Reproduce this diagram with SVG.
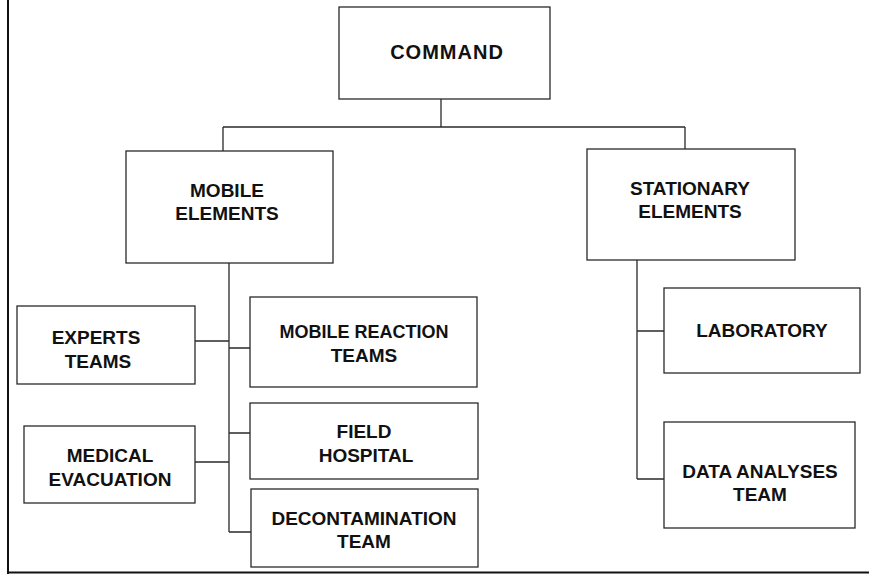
<svg xmlns="http://www.w3.org/2000/svg" width="869" height="574" viewBox="0 0 869 574">
<style>
.box{fill:#fff;stroke:#2a2a2a;stroke-width:1.3}
.t{font-family:"Liberation Sans",Arial,sans-serif;font-weight:bold;font-size:19px;fill:#111;text-anchor:middle}
.c{fill:none;stroke:#2a2a2a;stroke-width:1.3}
.frame{fill:none;stroke:#111;stroke-width:2}
</style>
<rect width="869" height="574" fill="#fff"/>
<g id="frame">
<line class="frame" x1="8" y1="0" x2="8" y2="574"/>
<line class="frame" x1="8" y1="572.5" x2="869" y2="572.5"/>
</g>
<g id="connectors">
<path class="c" d="M441 99V127M223 127H685M223 127V151M685 127V149"/>
<path class="c" d="M229 263V532M195 341H229M229 348H250M229 433H250M195 462H229M229 532H251"/>
<path class="c" d="M637 260V479M637 331H664M637 479H664"/>
</g>
<g id="command">
<rect class="box" x="339" y="7" width="211" height="92"/>
<text class="t" x="447" y="59" style="font-size:20px;letter-spacing:1px">COMMAND</text>
</g>
<g id="mobile-elements">
<rect class="box" x="126" y="151" width="207" height="112"/>
<text class="t" x="227" y="197">MOBILE</text>
<text class="t" x="227" y="220">ELEMENTS</text>
</g>
<g id="stationary-elements">
<rect class="box" x="587" y="149" width="208" height="111"/>
<text class="t" x="690" y="195">STATIONARY</text>
<text class="t" x="690" y="218">ELEMENTS</text>
</g>
<g id="experts-teams">
<rect class="box" x="17" y="306" width="178" height="78"/>
<text class="t" x="96" y="344">EXPERTS</text>
<text class="t" x="98" y="368">TEAMS</text>
</g>
<g id="mobile-reaction-teams">
<rect class="box" x="250" y="297" width="227" height="90"/>
<text class="t" x="364" y="338" style="font-size:18px">MOBILE REACTION</text>
<text class="t" x="364" y="362">TEAMS</text>
</g>
<g id="field-hospital">
<rect class="box" x="250" y="403" width="228" height="76"/>
<text class="t" x="364" y="438">FIELD</text>
<text class="t" x="366" y="462">HOSPITAL</text>
</g>
<g id="medical-evacuation">
<rect class="box" x="24" y="426" width="171" height="77"/>
<text class="t" x="110" y="462">MEDICAL</text>
<text class="t" x="110" y="486">EVACUATION</text>
</g>
<g id="decontamination-team">
<rect class="box" x="251" y="489" width="227" height="78"/>
<text class="t" x="364" y="525">DECONTAMINATION</text>
<text class="t" x="364" y="548">TEAM</text>
</g>
<g id="laboratory">
<rect class="box" x="664" y="288" width="196" height="85"/>
<text class="t" x="762" y="337">LABORATORY</text>
</g>
<g id="data-analyses-team">
<rect class="box" x="664" y="422" width="191" height="106"/>
<text class="t" x="760" y="478">DATA ANALYSES</text>
<text class="t" x="760" y="501">TEAM</text>
</g>
</svg>
